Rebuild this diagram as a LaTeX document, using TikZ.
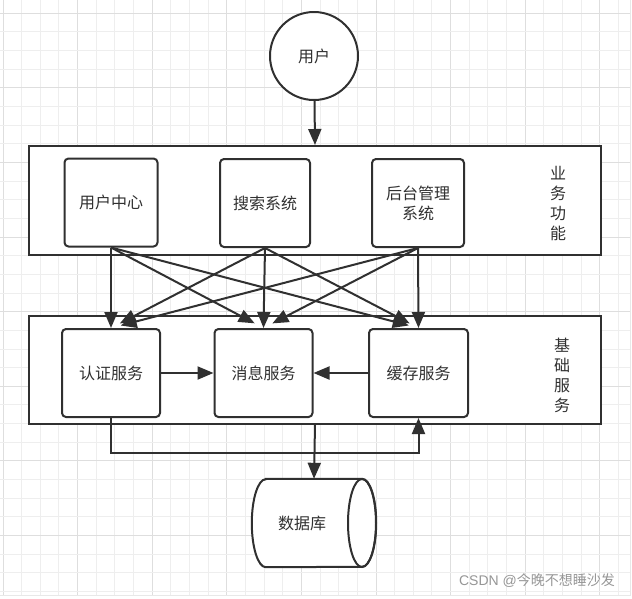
\documentclass[tikz,border=0pt]{standalone}
\usepackage{fontspec}
\newfontfamily\cjk{Noto Sans CJK SC}
\newfontfamily\wmlatin{Liberation Sans}
\usetikzlibrary{arrows.meta}
\definecolor{ink}{RGB}{48,48,48}
\definecolor{gridminor}{RGB}{238,238,238}
\definecolor{gridmajor}{RGB}{222,222,222}
\definecolor{wmgray}{RGB}{150,150,150}
\tikzset{
  basefont/.style={font=\cjk\fontsize{16}{20}\selectfont, text=ink},
  box/.style={basefont, draw=ink, line width=2pt, rounded corners=4pt, fill=white,
    minimum height=88pt, inner sep=0pt, align=center},
  outerbox/.style={draw=ink, line width=2pt, fill=white, inner sep=0pt},
  circ/.style={basefont, circle, draw=ink, line width=2pt, fill=white, minimum size=88pt, inner sep=0pt},
  vlabel/.style={basefont, align=center, inner sep=0pt},
  arr/.style={draw=ink, line width=2pt, -{Triangle[length=16pt,width=13pt]}},
  slant/.style={arr, shorten >=10pt},
  wm/.style={font=\cjk\fontsize{14}{16}\selectfont, text=wmgray, inner sep=0pt}
}
\begin{document}
\begin{tikzpicture}[x=1pt,y=-1pt]
\useasboundingbox (0,0) rectangle (632,598);
\fill[white] (0,0) rectangle (632,598);
% grid
\foreach \k in {0,...,33} {
  \pgfmathsetmacro{\gx}{3+18.65*\k}
  \pgfmathtruncatemacro{\m}{mod(\k,4)}
  \ifnum\m=0
    \draw[gridmajor, line width=1pt] (\gx,0) -- (\gx,595);
  \else
    \draw[gridminor, line width=1pt] (\gx,0) -- (\gx,595);
  \fi
}
\foreach \k in {-1,...,31} {
  \pgfmathsetmacro{\gy}{13.3+18.65*\k}
  \pgfmathtruncatemacro{\m}{mod(\k+4,4)}
  \ifnum\m=0
    \draw[gridmajor, line width=1pt] (0,\gy) -- (630,\gy);
  \else
    \draw[gridminor, line width=1pt] (0,\gy) -- (630,\gy);
  \fi
}
\draw[gridmajor!80!black!30, line width=1pt] (630,0) -- (630,595.5) -- (0,595.5);

% nodes
\node[circ] (user) at (314,56) {用户};
\node[outerbox, minimum width=572pt, minimum height=109pt] (biz) at (315,200.5) {};
\node[box, minimum width=93pt] (uc) at (111,202.5) {用户中心};
\node[box, minimum width=90pt] (search) at (265,203) {搜索系统};
\node[box, minimum width=92pt] (admin) at (418,203) {后台管理\\系统};
\node[vlabel] (bizlabel) at (558,204) {业\\务\\功\\能};

\node[outerbox, minimum width=572pt, minimum height=108pt] (base) at (315,370) {};
\node[box, minimum width=98pt] (auth) at (111,373) {认证服务};
\node[box, minimum width=98pt] (msg) at (263.5,373) {消息服务};
\node[box, minimum width=99pt] (cache) at (418.5,373) {缓存服务};
\node[vlabel] (baselabel) at (562,375) {基\\础\\服\\务};

\node[minimum width=124pt, minimum height=88pt, inner sep=0pt] (db) at (314,523) {};
\filldraw[fill=white, draw=ink, line width=2pt]
  ([xshift=14pt]db.north west) -- ([xshift=-14pt]db.north east)
  arc[start angle=90, end angle=-90, x radius=14pt, y radius=44pt]
  -- ([xshift=14pt]db.south west)
  arc[start angle=270, end angle=90, x radius=14pt, y radius=44pt] -- cycle;
\draw[ink, line width=2pt] (362,523) ellipse[x radius=14pt, y radius=44pt];
\node[basefont, inner sep=0pt] (dbtext) at (302,523) {数据库};

\node[wm] (wm) at (537,581) {{\wmlatin CSDN @}今晚不想睡沙发};

% connectors
\draw[arr] (user) -- (biz.north);

\draw[arr] (uc.south) -- (auth.north);
\draw[slant] (uc.south) -- (msg.north);
\draw[slant] (uc.south) -- (cache.north);
\draw[slant] (search.south) -- (auth.north);
\draw[arr] (search.south) -- (msg.north);
\draw[slant] (search.south) -- (cache.north);
\draw[slant] (admin.south) -- (auth.north);
\draw[slant] (admin.south) -- (msg.north);
\draw[arr] (admin.south) -- (cache.north);

\draw[arr] (auth) -- (msg);
\draw[arr] (cache) -- (msg);

\coordinate (turnL) at (111,453);
\coordinate (turnR) at (418.5,453);
\draw[arr] (auth.south) -- (turnL) -- (turnR) -- (cache.south);
\draw[arr] (base.south) -- (db.north);
\end{tikzpicture}
\end{document}
